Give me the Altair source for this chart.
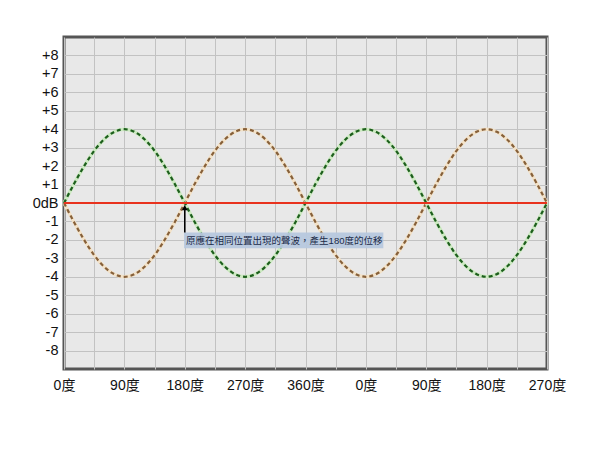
import altair as alt
import pandas as pd

# phase positions (degrees) sampled every 15 degrees over 0..720
phase = [i * 15 for i in range(49)]
# green wave values (dB)
green_vals = [0, 1.04, 2.0, 2.83, 3.46, 3.86, 4.0, 3.86, 3.46, 2.83, 2.0, 1.04,
              0, -1.04, -2.0, -2.83, -3.46, -3.86, -4.0, -3.86, -3.46, -2.83, -2.0, -1.04,
              0, 1.04, 2.0, 2.83, 3.46, 3.86, 4.0, 3.86, 3.46, 2.83, 2.0, 1.04,
              0, -1.04, -2.0, -2.83, -3.46, -3.86, -4.0, -3.86, -3.46, -2.83, -2.0, -1.04, 0]
# brown (shifted) wave values (dB)
brown_vals = [0, -1.04, -2.0, -2.83, -3.46, -3.86, -4.0, -3.86, -3.46, -2.83, -2.0, -1.04,
              0, 1.04, 2.0, 2.83, 3.46, 3.86, 4.0, 3.86, 3.46, 2.83, 2.0, 1.04,
              0, -1.04, -2.0, -2.83, -3.46, -3.86, -4.0, -3.86, -3.46, -2.83, -2.0, -1.04,
              0, 1.04, 2.0, 2.83, 3.46, 3.86, 4.0, 3.86, 3.46, 2.83, 2.0, 1.04, 0]

x_grid_values = [i * 45 for i in range(17)]
x_tick_labels = ["0度", "", "90度", "", "180度", "", "270度", "", "360度",
                 "", "0度", "", "90度", "", "180度", "", "270度"]
y_tick_values = list(range(-8, 9))
y_tick_labels = ["-8", "-7", "-6", "-5", "-4", "-3", "-2", "-1", "0dB",
                 "+1", "+2", "+3", "+4", "+5", "+6", "+7", "+8"]

baseline_x = [0, 720]
baseline_y = [0, 0]

note_text = "原應在相同位置出現的聲波，產生180度的位移"
note_box_x = [179, 476]
note_box_y = [-1.6, -2.46]
note_text_pos = [182, -2.04]
arrow_x = 180
arrow_y = [-1.6, -0.25]

FONT = "Liberation Sans, 'Noto Sans CJK TC', sans-serif"

df = pd.DataFrame({"phase": phase, "green": green_vals, "brown": brown_vals})

x_label_expr = "[" + ",".join("'" + s + "'" for s in x_tick_labels) + "][round(datum.value/45)]"
y_label_expr = "[" + ",".join("'" + s + "'" for s in y_tick_labels) + "][round(datum.value)+8]"

xscale = alt.Scale(domain=[0, 720], nice=False, zero=False)
yscale = alt.Scale(domain=[-9, 9], nice=False, zero=False)

x_axis = alt.Axis(values=x_grid_values, labelExpr=x_label_expr, title=None, domain=False,
                  ticks=False, labelPadding=9, labelFontSize=14, labelColor="#111",
                  labelFont=FONT, gridColor="#c2c2c2", gridWidth=1, labelOverlap=False,
                  labelFlush=False)
y_axis = alt.Axis(values=y_tick_values, labelExpr=y_label_expr, title=None, domain=False,
                  ticks=False, labelPadding=6, labelFontSize=14.5, labelColor="#111",
                  labelFont=FONT, gridColor="#c2c2c2", gridWidth=1, labelOverlap=False)


def X(field):
    return alt.X(field, type="quantitative", scale=xscale, axis=x_axis)


def Y(field):
    return alt.Y(field, type="quantitative", scale=yscale, axis=y_axis)


base = alt.Chart(df)


def wave(field, light, dark):
    glow = base.mark_line(color=light, strokeWidth=3.5, interpolate="monotone").encode(
        x=X("phase"), y=Y(field))
    dash = base.mark_line(color=dark, strokeWidth=2.2, strokeDash=[4, 3],
                          interpolate="monotone").encode(
        x=X("phase"), y=Y(field))
    return [glow, dash]


green_layer = wave("green", "#cdeac2", "#1d5e1d")
brown_layer = wave("brown", "#f3e2c8", "#86603a")

red_df = pd.DataFrame({"x": baseline_x, "y": baseline_y})
red_line = alt.Chart(red_df).mark_line(color="#e8321e", strokeWidth=2).encode(
    x=X("x"), y=Y("y"))

box_df = pd.DataFrame({"x": [note_box_x[0]], "x2": [note_box_x[1]],
                       "y": [note_box_y[0]], "y2": [note_box_y[1]]})
box = alt.Chart(box_df).mark_rect(color="#b7c8de", opacity=0.95).encode(
    x=X("x"), x2="x2:Q", y=Y("y"), y2="y2:Q")

txt_df = pd.DataFrame({"x": [note_text_pos[0]], "y": [note_text_pos[1]], "t": [note_text]})
txt = alt.Chart(txt_df).mark_text(align="left", baseline="middle", fontSize=9.5,
                                   color="#1b2a48", font=FONT).encode(
    x=X("x"), y=Y("y"), text="t:N")

arrow_df = pd.DataFrame({"x": [arrow_x], "y": [arrow_y[0]], "y2": [arrow_y[1]]})
arrow_line = alt.Chart(arrow_df).mark_rule(color="black", strokeWidth=1.5).encode(
    x=X("x"), y=Y("y"), y2="y2:Q")
head_df = pd.DataFrame({"x": [arrow_x], "y": [arrow_y[1]]})
arrow_head = alt.Chart(head_df).mark_point(shape="triangle-up", filled=True, color="black",
                                           size=35, opacity=1).encode(
    x=X("x"), y=Y("y"))

chart = alt.layer(*brown_layer, *green_layer, red_line, box, txt,
                  arrow_line, arrow_head).properties(
    width=483, height=332,
    autosize=alt.AutoSizeParams(type="none"),
    padding={"left": 56, "top": 29, "right": 45, "bottom": 60},
    background="white",
).configure_view(
    fill="#e8e8e8", stroke="#555555", strokeWidth=3
)

chart.save("out.html", embed_options={"renderer": "svg", "actions": False})
